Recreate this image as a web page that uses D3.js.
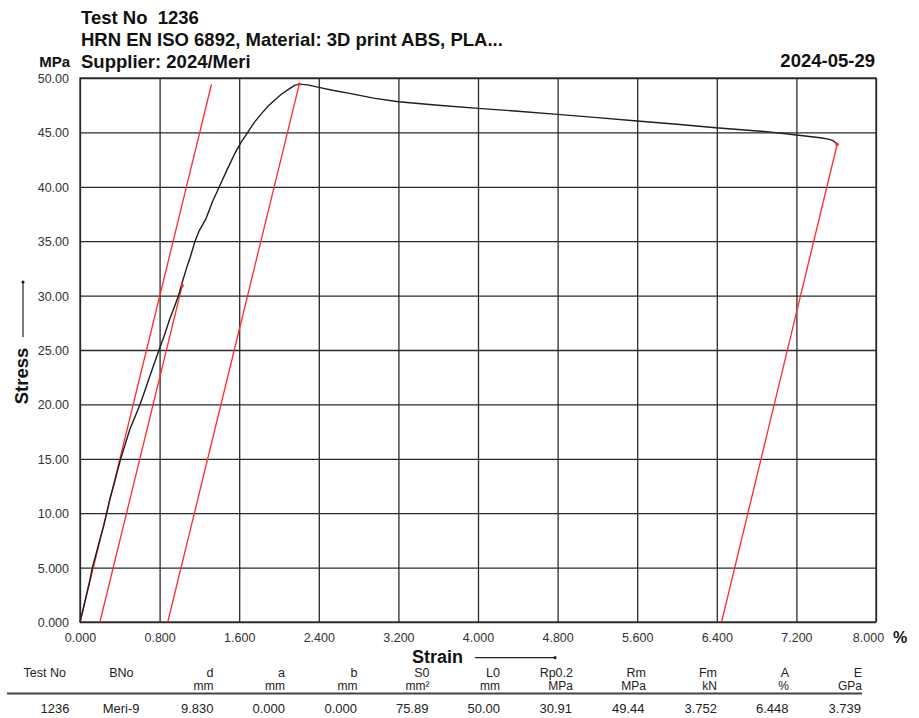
<!DOCTYPE html>
<html>
<head>
<meta charset="utf-8">
<script src="https://cdn.jsdelivr.net/npm/d3@7"></script>
<style>
  html, body { margin: 0; padding: 0; background: #fff; }
  svg { display: block; font-family: "Liberation Sans", Arial, Helvetica, sans-serif; }
</style>
</head>
<body>
<svg id="chart" width="919" height="718"></svg>
<script>
// ---------------- DATA ----------------
const titleLines = ["Test No  1236", "HRN EN ISO 6892, Material: 3D print ABS, PLA...", "Supplier: 2024/Meri"];
const testDate = "2024-05-29";

const strainTicks = [0, 0.8, 1.6, 2.4, 3.2, 4.0, 4.8, 5.6, 6.4, 7.2, 8.0];
const strainTickLabels = ["0.000", "0.800", "1.600", "2.400", "3.200", "4.000", "4.800", "5.600", "6.400", "7.200", "8.000"];
const stressTicks = [0, 5, 10, 15, 20, 25, 30, 35, 40, 45, 50];
const stressTickLabels = ["0.000", "5.000", "10.00", "15.00", "20.00", "25.00", "30.00", "35.00", "40.00", "45.00", "50.00"];

// measured stress-strain curve (strain %, stress MPa)
const curveStrain = [0, 0.03, 0.07, 0.10, 0.124, 0.16, 0.2, 0.24, 0.268, 0.30, 0.34, 0.38, 0.409, 0.45, 0.50, 0.55, 0.603, 0.65, 0.687, 0.74, 0.794, 0.85, 0.90, 0.95, 0.99, 1.03, 1.07, 1.11, 1.156, 1.20, 1.263, 1.33, 1.40, 1.48, 1.558, 1.62, 1.685, 1.75, 1.826, 1.89, 1.96, 2.03, 2.11, 2.16, 2.21, 2.30, 2.40, 2.55, 2.71, 2.95, 3.20, 3.60, 4.0, 4.4, 4.8, 5.2, 5.6, 6.0, 6.39, 6.9, 7.2, 7.44, 7.52, 7.57, 7.61];
const curveStress = [0, 1.1, 2.7, 3.9, 5.0, 6.2, 7.6, 8.9, 10.0, 11.3, 12.6, 14.0, 15.0, 16.2, 17.7, 18.8, 20.0, 21.2, 22.2, 23.6, 25.0, 26.4, 27.8, 29.0, 30.0, 31.3, 32.5, 33.6, 35.0, 36.0, 37.0, 38.6, 40.0, 41.6, 43.1, 44.1, 45.0, 45.9, 46.75, 47.4, 48.0, 48.55, 49.05, 49.35, 49.44, 49.35, 49.14, 48.85, 48.59, 48.15, 47.82, 47.5, 47.21, 46.95, 46.66, 46.36, 46.05, 45.75, 45.43, 45.07, 44.76, 44.51, 44.38, 44.24, 43.91];

// evaluation lines (red): [strain0, stress0, strain1, stress1]
const modulusLine = [0, 0, 1.321, 49.4];
const rp02Line = [0.2, 0, 1.027, 30.91];
const rmLine = [0.882, 0, 2.204, 49.44];
const breakLine = [6.448, 0, 7.61, 43.91];
const evalPoints = [[1.027, 30.91], [2.204, 49.44], [7.61, 43.91]];

// result table
const tableHeaders = ["Test No", "BNo", "d", "a", "b", "S0", "L0", "Rp0.2", "Rm", "Fm", "A", "E"];
const tableUnits = ["", "", "mm", "mm", "mm", "mm²", "mm", "MPa", "MPa", "kN", "%", "GPa"];
const tableValues = ["1236", "Meri-9", "9.830", "0.000", "0.000", "75.89", "50.00", "30.91", "49.44", "3.752", "6.448", "3.739"];

// ---------------- LAYOUT ----------------
const svg = d3.select("#chart");
const P = { left: 80, right: 876, top: 78, bottom: 622 };
const W = P.right - P.left, H = P.bottom - P.top;

const x = d3.scaleLinear().domain([0, 8]).range([P.left, P.right]);
const y = d3.scaleLinear().domain([0, 50]).range([P.bottom, P.top]);

// titles
const titleG = svg.append("g").attr("font-weight", "bold").attr("fill", "#111").attr("font-size", "18.5px");
[24.3, 45.8, 67.6].forEach((b, i) => {
  titleG.append("text").attr("x", 81).attr("y", b).attr("xml:space", "preserve").style("white-space", "pre").text(titleLines[i]);
});
svg.append("text").attr("x", 875).attr("y", 67.4).attr("text-anchor", "end")
  .attr("font-weight", "bold").attr("font-size", "18.5px").attr("fill", "#111").text(testDate);
svg.append("text").attr("x", 70).attr("y", 67.4).attr("text-anchor", "end")
  .attr("font-weight", "bold").attr("font-size", "15px").attr("fill", "#111").text("MPa");

// grid + axes
const xAxis = d3.axisBottom(x).tickValues(strainTicks)
  .tickFormat((d, i) => strainTickLabels[i]).tickSizeInner(-H).tickSizeOuter(0).tickPadding(11);
const yAxis = d3.axisLeft(y).tickValues(stressTicks)
  .tickFormat((d, i) => stressTickLabels[i]).tickSizeInner(-W).tickSizeOuter(0).tickPadding(11);

const gx = svg.append("g").attr("transform", `translate(0,${P.bottom})`).call(xAxis);
const gy = svg.append("g").attr("transform", `translate(${P.left},0)`).call(yAxis);
[gx, gy].forEach(g => {
  g.select(".domain").remove();
  g.selectAll(".tick line").attr("stroke", "#2a2a2a").attr("stroke-width", 1.3);
  g.selectAll(".tick text").attr("fill", "#333").attr("font-size", "12.5px")
    .attr("font-family", "'Liberation Sans', Arial, sans-serif");
});
gy.selectAll(".tick text").attr("dy", "0.36em");
// last strain label sits a little left of its gridline, leaving room for the unit
gx.selectAll(".tick text").filter((d, i) => i === strainTicks.length - 1).attr("dx", -8);

svg.append("rect").attr("x", P.left).attr("y", P.top).attr("width", W).attr("height", H)
  .attr("fill", "none").attr("stroke", "#2a2a2a").attr("stroke-width", 1.3);

// % unit
svg.append("text").attr("x", 893).attr("y", 642.5).attr("font-weight", "bold")
  .attr("font-size", "16px").attr("fill", "#111").text("%");

// red evaluation lines
const redG = svg.append("g").attr("stroke", "#ff2a2a").attr("stroke-width", 1.3).attr("fill", "none");
[modulusLine, rp02Line, rmLine, breakLine].forEach(l => {
  redG.append("line").attr("x1", x(l[0])).attr("y1", y(l[1])).attr("x2", x(l[2])).attr("y2", y(l[3]));
});

// curve
const line = d3.line().x(d => x(d[0])).y(d => y(d[1]));
const curve = curveStrain.map((s, i) => [s, curveStress[i]]);
svg.append("path").datum(curve).attr("d", line).attr("fill", "none")
  .attr("stroke", "#1e1e1e").attr("stroke-width", 1.4).attr("stroke-linejoin", "round");

svg.append("g").selectAll("circle").data(evalPoints).join("circle")
  .attr("cx", d => x(d[0])).attr("cy", d => y(d[1])).attr("r", 1.7).attr("fill", "#ff2a2a");

// axis titles with arrows
svg.append("text").attr("transform", "translate(28,376) rotate(-90)").attr("text-anchor", "middle")
  .attr("font-weight", "bold").attr("font-size", "18.5px").attr("fill", "#111").text("Stress");
svg.append("line").attr("x1", 23).attr("y1", 337).attr("x2", 23).attr("y2", 282)
  .attr("stroke", "#222").attr("stroke-width", 1.2);
svg.append("circle").attr("cx", 23).attr("cy", 282).attr("r", 1.6).attr("fill", "#222");

svg.append("text").attr("x", 437.5).attr("y", 663.3).attr("text-anchor", "middle")
  .attr("font-weight", "bold").attr("font-size", "18px").attr("fill", "#111").text("Strain");
svg.append("line").attr("x1", 475).attr("y1", 657.7).attr("x2", 555).attr("y2", 657.7)
  .attr("stroke", "#222").attr("stroke-width", 1.2);
svg.append("circle").attr("cx", 555).attr("cy", 657.7).attr("r", 1.6).attr("fill", "#222");

// result table
const headerRight = [66, 133.5, 213.5, 285, 357.5, 429.5, 500, 573, 646, 717, 789, 862];
const valueRight = [69.5, 139.5, 213.5, 285, 357, 428.5, 500, 572, 644.5, 717, 788.5, 861];
const tG = svg.append("g").attr("fill", "#222").attr("text-anchor", "end");
tG.selectAll("text.h").data(tableHeaders).join("text").attr("class", "h")
  .attr("x", (d, i) => headerRight[i]).attr("y", 677).attr("font-size", "12.5px").text(d => d);
tG.selectAll("text.u").data(tableUnits).join("text").attr("class", "u")
  .attr("x", (d, i) => headerRight[i]).attr("y", 690).attr("font-size", "12px").text(d => d);
tG.selectAll("text.v").data(tableValues).join("text").attr("class", "v")
  .attr("x", (d, i) => valueRight[i]).attr("y", 712.8).attr("font-size", "13px").text(d => d);
svg.append("line").attr("x1", 7).attr("x2", 862).attr("y1", 693.5).attr("y2", 693.5)
  .attr("stroke", "#444").attr("stroke-width", 1.8);
</script>
</body>
</html>
